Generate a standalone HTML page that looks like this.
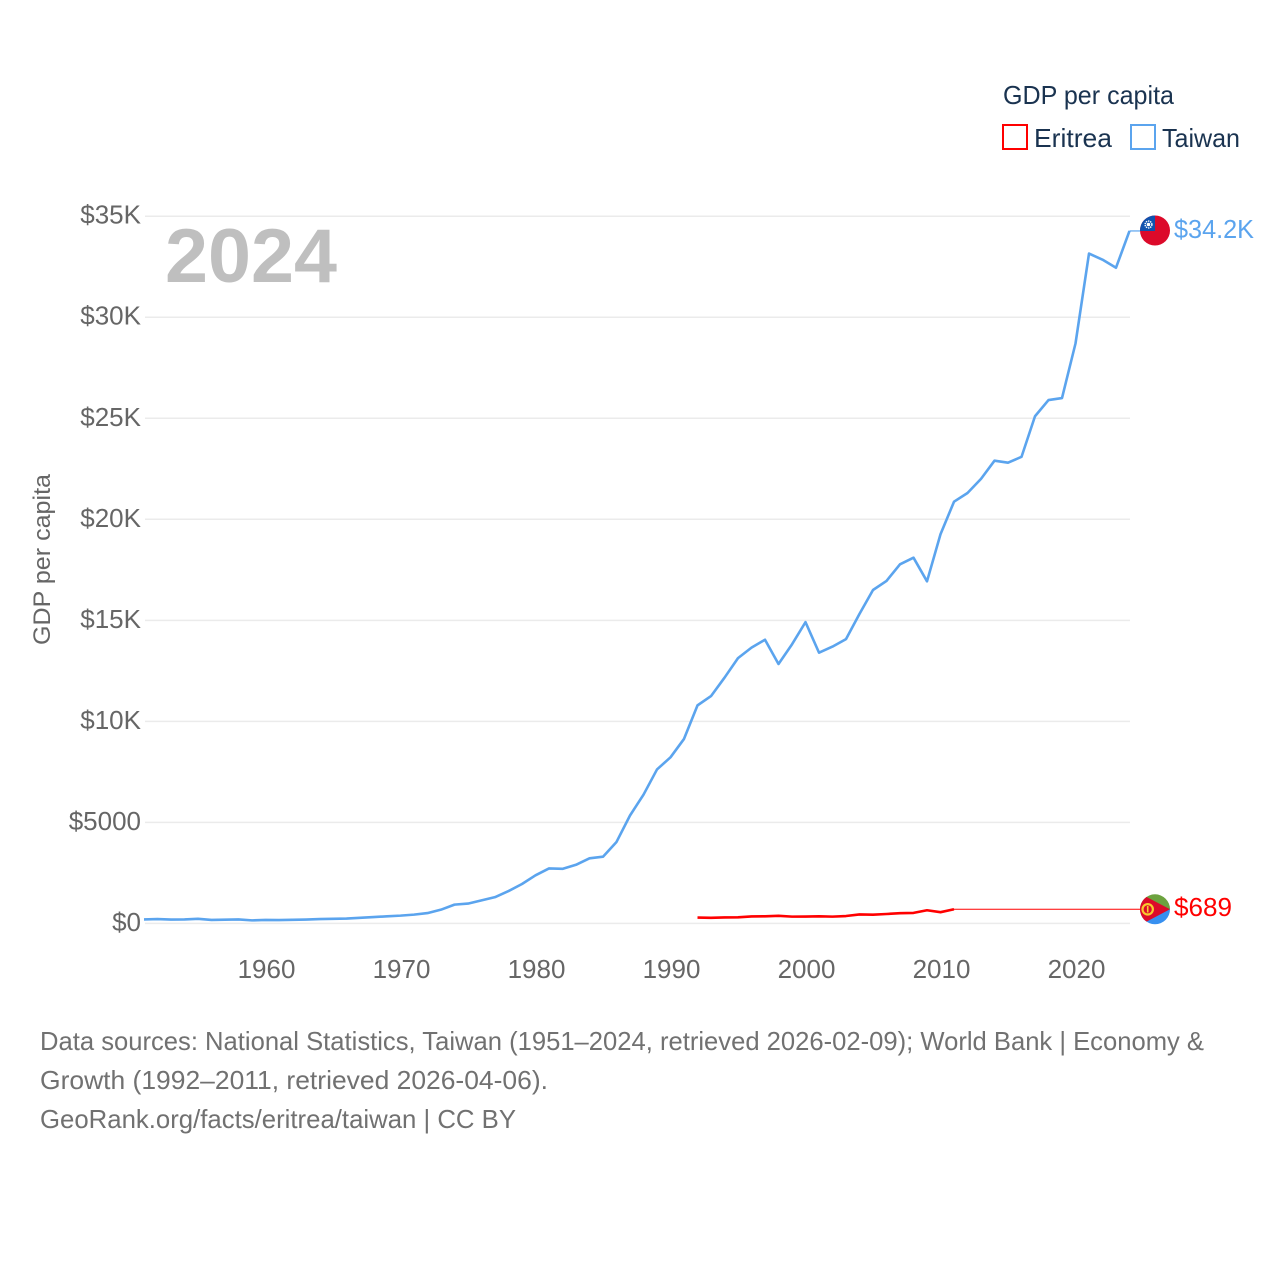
<!DOCTYPE html>
<html lang="en">
<head>
<meta charset="utf-8">
<title>GDP per capita: Eritrea and Taiwan</title>
<style>
html,body{margin:0;padding:0;background:#fff;width:1280px;height:1280px;overflow:hidden}
svg{display:block;font-family:"Liberation Sans",sans-serif}
</style>
</head>
<body>
<svg id="chart" width="1280" height="1280" viewBox="0 0 1280 1280" xmlns="http://www.w3.org/2000/svg">
  <defs>
    <clipPath id="flag-clip-taiwan"><circle cx="1155" cy="230.5" r="15"/></clipPath>
    <clipPath id="flag-clip-eritrea"><circle cx="1155" cy="909.3" r="15"/></clipPath>
  </defs>

  <g id="grid"></g>
  <g id="y-ticks"></g>
  <g id="x-ticks"></g>

  <text transform="translate(50,645) rotate(-90)" font-size="24.5" fill="#666" textLength="171" lengthAdjust="spacingAndGlyphs">GDP per capita</text>
  <text x="165" y="282" font-size="76" font-weight="bold" fill="#bfbfbf" textLength="172" lengthAdjust="spacingAndGlyphs">2024</text>

  <g id="series"></g>

  <g clip-path="url(#flag-clip-taiwan)">
    <rect x="1139" y="215" width="32" height="32" fill="#dc0a2a"/>
    <rect x="1139" y="215" width="16" height="16" fill="#0f52ae"/>
    <circle cx="1148.5" cy="224.5" r="3.4" fill="none" stroke="#fff" stroke-width="1.4" stroke-dasharray="1.4 0.8"/>
    <circle cx="1148.5" cy="224.5" r="1.8" fill="#fff"/>
  </g>
  <g clip-path="url(#flag-clip-eritrea)">
    <rect x="1139" y="893" width="32" height="16.3" fill="#6ca23f"/>
    <rect x="1139" y="909.3" width="32" height="17" fill="#3790f0"/>
    <polygon points="1139,893 1170,909.3 1139,925.6" fill="#dc0a2a"/>
    <circle cx="1147.7" cy="909.3" r="5.2" fill="none" stroke="#f6c92f" stroke-width="2.2"/>
    <rect x="1146.9" y="906" width="1.6" height="6.5" fill="#f6c92f"/>
  </g>

  <text x="1174" y="238" font-size="26" fill="#5ba4ee" textLength="80" lengthAdjust="spacingAndGlyphs">$34.2K</text>
  <text x="1174" y="916" font-size="26" fill="#ff0000" textLength="58" lengthAdjust="spacingAndGlyphs">$689</text>

  <g>
    <text x="1003" y="104" font-size="26" fill="#1a3350" textLength="171" lengthAdjust="spacingAndGlyphs">GDP per capita</text>
    <g>
      <rect x="1003" y="125" width="24" height="24" fill="none" stroke="#ff0000" stroke-width="2"/>
      <text x="1034" y="147" font-size="26" fill="#1a3350" textLength="78" lengthAdjust="spacingAndGlyphs">Eritrea</text>
    </g>
    <g>
      <rect x="1131" y="125" width="24" height="24" fill="none" stroke="#5ba4ee" stroke-width="2"/>
      <text x="1162" y="147" font-size="26" fill="#1a3350" textLength="78" lengthAdjust="spacingAndGlyphs">Taiwan</text>
    </g>
  </g>

  <g font-size="26" fill="#717171">
    <text x="40" y="1050" textLength="1164" lengthAdjust="spacingAndGlyphs">Data sources: National Statistics, Taiwan (1951–2024, retrieved 2026-02-09); World Bank | Economy &amp;</text>
    <text x="40" y="1089" textLength="508" lengthAdjust="spacingAndGlyphs">Growth (1992–2011, retrieved 2026-04-06).</text>
    <text x="40" y="1128" textLength="476" lengthAdjust="spacingAndGlyphs">GeoRank.org/facts/eritrea/taiwan | CC BY</text>
  </g>
</svg>

<script>
const taiwanYears = [1951,1952,1953,1954,1955,1956,1957,1958,1959,1960,1961,1962,1963,1964,1965,1966,1967,1968,1969,1970,1971,1972,1973,1974,1975,1976,1977,1978,1979,1980,1981,1982,1983,1984,1985,1986,1987,1988,1989,1990,1991,1992,1993,1994,1995,1996,1997,1998,1999,2000,2001,2002,2003,2004,2005,2006,2007,2008,2009,2010,2011,2012,2013,2014,2015,2016,2017,2018,2019,2020,2021,2022,2023,2024];
const taiwanValues = [196,214,190,195,225,170,185,195,150,170,165,175,190,215,225,240,275,315,350,385,435,510,680,930,980,1140,1300,1600,1950,2380,2720,2700,2900,3220,3300,4030,5340,6370,7620,8220,9130,10790,11250,12160,13130,13650,14040,12840,13810,14910,13400,13700,14070,15320,16500,16950,17770,18100,16930,19260,20870,21300,22000,22900,22800,23090,25100,25900,26000,28700,33150,32850,32450,34270];
const eritreaYears = [1992,1993,1994,1995,1996,1997,1998,1999,2000,2001,2002,2003,2004,2005,2006,2007,2008,2009,2010,2011];
const eritreaValues = [290,275,295,300,345,350,375,335,340,350,335,365,445,430,465,505,520,650,555,700];
const yTickValues = [0,5000,10000,15000,20000,25000,30000,35000];
const yTickLabels = ["$0","$5000","$10K","$15K","$20K","$25K","$30K","$35K"];
const xTickValues = [1960,1970,1980,1990,2000,2010,2020];
const xTickLabels = ["1960","1970","1980","1990","2000","2010","2020"];

const NS = "http://www.w3.org/2000/svg";
function xScale(year){ return 144 + (year - 1951) * 13.5; }
function yScale(value){ return 923.4 - value * (707.2 / 35000); }
function pathFor(years, values){
  return years.map(function(yr, i){
    return (i ? "L" : "M") + xScale(yr).toFixed(2) + " " + yScale(values[i]).toFixed(2);
  }).join("");
}

const gridGroup = document.getElementById("grid");
const yGroup = document.getElementById("y-ticks");
yTickValues.forEach(function(v, i){
  const line = document.createElementNS(NS, "line");
  
  
  line.setAttribute("x1", 145);
  line.setAttribute("x2", 1130);
  line.setAttribute("y1", yScale(v));
  line.setAttribute("y2", yScale(v));
  line.setAttribute("stroke", "#ebebeb");
  line.setAttribute("stroke-width", "1.5");
  gridGroup.appendChild(line);

  const t = document.createElementNS(NS, "text");
  
  
  t.setAttribute("x", 141);
  t.setAttribute("y", yScale(v) + 7.5);
  t.setAttribute("text-anchor", "end");
  t.setAttribute("font-size", "26");
  t.setAttribute("fill", "#666");
  t.textContent = yTickLabels[i];
  yGroup.appendChild(t);
});

const xGroup = document.getElementById("x-ticks");
xTickValues.forEach(function(v, i){
  const t = document.createElementNS(NS, "text");
  
  
  t.setAttribute("x", xScale(v) + 1);
  t.setAttribute("y", 978);
  t.setAttribute("text-anchor", "middle");
  t.setAttribute("font-size", "26");
  t.setAttribute("fill", "#666");
  t.textContent = xTickLabels[i];
  xGroup.appendChild(t);
});

const seriesGroup = document.getElementById("series");

const taiwanLine = document.createElementNS(NS, "path");


taiwanLine.setAttribute("d", pathFor(taiwanYears, taiwanValues));
taiwanLine.setAttribute("fill", "none");
taiwanLine.setAttribute("stroke", "#5ba4ee");
taiwanLine.setAttribute("stroke-width", "2.6");
taiwanLine.setAttribute("stroke-linejoin", "round");
seriesGroup.appendChild(taiwanLine);

const eritreaLine = document.createElementNS(NS, "path");


eritreaLine.setAttribute("d", pathFor(eritreaYears, eritreaValues));
eritreaLine.setAttribute("fill", "none");
eritreaLine.setAttribute("stroke", "#ff0000");
eritreaLine.setAttribute("stroke-width", "2.6");
eritreaLine.setAttribute("stroke-linejoin", "round");
seriesGroup.appendChild(eritreaLine);

const taiwanLead = document.createElementNS(NS, "line");


taiwanLead.setAttribute("x1", xScale(taiwanYears[taiwanYears.length - 1]));
taiwanLead.setAttribute("x2", 1140);
taiwanLead.setAttribute("y1", yScale(taiwanValues[taiwanValues.length - 1]));
taiwanLead.setAttribute("y2", yScale(taiwanValues[taiwanValues.length - 1]));
taiwanLead.setAttribute("stroke", "#5ba4ee");
taiwanLead.setAttribute("stroke-width", "1.2");
seriesGroup.appendChild(taiwanLead);

const eritreaLead = document.createElementNS(NS, "line");


eritreaLead.setAttribute("x1", xScale(eritreaYears[eritreaYears.length - 1]));
eritreaLead.setAttribute("x2", 1140);
eritreaLead.setAttribute("y1", yScale(eritreaValues[eritreaValues.length - 1]));
eritreaLead.setAttribute("y2", yScale(eritreaValues[eritreaValues.length - 1]));
eritreaLead.setAttribute("stroke", "#ff0000");
eritreaLead.setAttribute("stroke-width", "1");
seriesGroup.appendChild(eritreaLead);
</script>
</body>
</html>
